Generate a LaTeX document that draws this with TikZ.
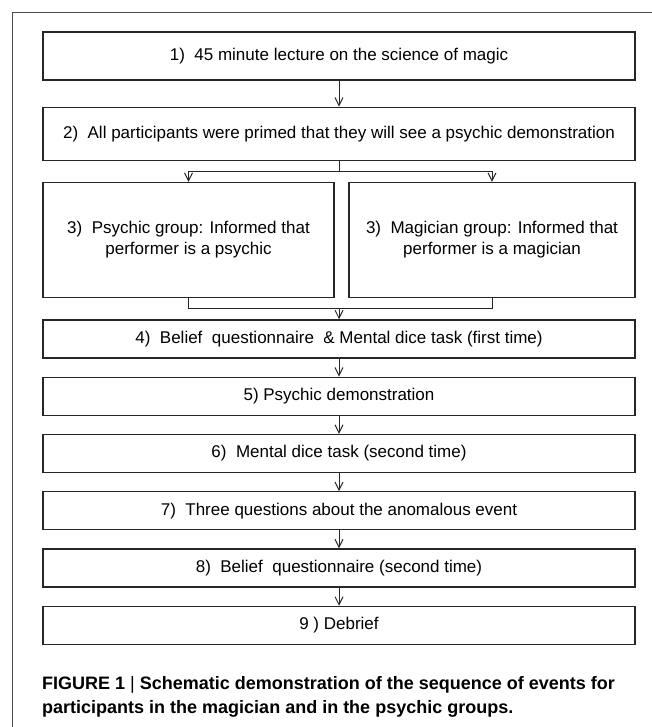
\documentclass[tikz,border=0pt]{standalone}
\usepackage{fontspec}
\setmainfont{Liberation Sans}
\usetikzlibrary{positioning,arrows.meta}

\begin{document}
\begin{tikzpicture}[x=1pt, y=-1pt, stage/.style={rectangle, draw=black!85, line width=1.3pt, align=center, minimum width=592pt, minimum height=38pt, inner sep=2pt, font=\fontsize{17}{21}\selectfont}, links/.style={-{Straight Barb[length=8pt,width=8pt]}, line width=1pt, draw=black!85}, joins/.style={line width=1pt, draw=black!85}]

	\useasboundingbox (0,0) rectangle (652,727);
	\draw[black!70, line width=0.9pt] (12.5,727) -- (12.5,12.5) -- (652,12.5);

	\node[stage, minimum height=48pt] at (339, 56) (lecture) {1)~ 45 minute lecture on the science of magic};
	\node[stage, minimum height=53pt, below = 26pt of lecture] (primed) {2)~ All participants were primed that they will see a psychic demonstration};

	\node[stage, minimum width=291pt, minimum height=115pt, anchor=north west] at ([yshift=-21pt]primed.south west) (psychic) {3)~ Psychic group: Informed that\\performer is a psychic};
	\node[stage, minimum width=286pt, minimum height=115pt, anchor=north east] at ([yshift=-21pt]primed.south east) (magician) {3)~ Magician group: Informed that\\performer is a magician};

	\node[stage, anchor=north] at ([yshift=-21pt]psychic.south -| primed.south) (belief1) {4)~ Belief~ questionnaire~ \& Mental dice task (first time)};
	\node[stage, below = 18pt of belief1] (demo) {5) Psychic demonstration};
	\node[stage, below = 18pt of demo] (dice2) {6)~ Mental dice task (second time)};
	\node[stage, below = 18pt of dice2] (questions) {7)~ Three questions about the anomalous event};
	\node[stage, below = 18pt of questions] (belief2) {8)~ Belief~ questionnaire (second time)};
	\node[stage, below = 18pt of belief2] (debrief) {9 ) Debrief};

	\coordinate[below = 11pt of primed] (split);
	\coordinate[above = 11pt of belief1] (merge);

	\node[anchor=north west, align=left, inner sep=0pt, font=\bfseries\fontsize{18}{24}\selectfont] at (42, 676) (caption) {FIGURE 1 {\mdseries|} Schematic demonstration of the sequence of events for\\participants in the magician and in the psychic groups.};

	\draw[links] (lecture) -- (primed);
	\draw[joins] (primed) -- (split);
	\draw[links] (split) -| (psychic.north);
	\draw[links] (split) -| (magician.north);

	\draw[joins] (psychic.south) |- (merge);
	\draw[joins] (magician.south) |- (merge);
	\draw[links] (merge) -- (belief1);

	\draw[links] (belief1) -- (demo);
	\draw[links] (demo) -- (dice2);
	\draw[links] (dice2) -- (questions);
	\draw[links] (questions) -- (belief2);
	\draw[links] (belief2) -- (debrief);
\end{tikzpicture}
\end{document}
